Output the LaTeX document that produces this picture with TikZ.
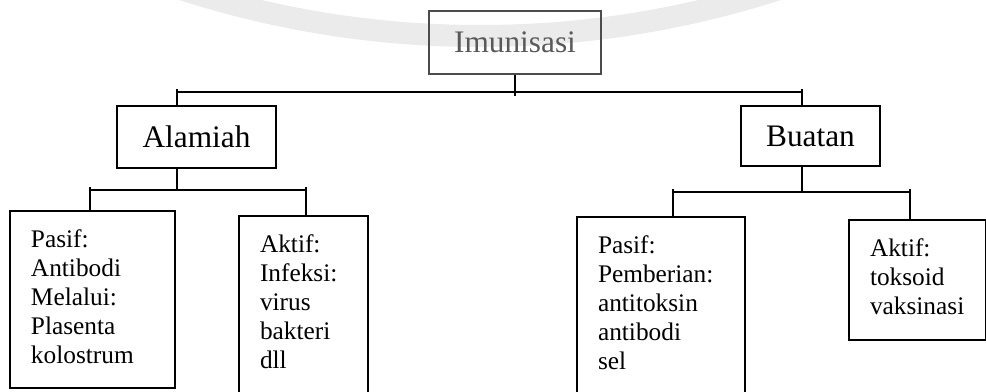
\documentclass[tikz,border=0pt]{standalone}
\usepackage{fontspec}
\setmainfont{Liberation Serif}
\usepackage{tikz}

\begin{document}
\begin{tikzpicture}[x=0.75pt, y=-0.75pt,
        headbox/.style={draw, line width=1.5pt, inner sep=0pt, font=\fontsize{23.5pt}{28pt}\selectfont},
        listbox/.style={draw, line width=1.5pt, anchor=north west, align=left, inner xsep=15.75pt, inner ysep=0pt, text depth=91.5pt, minimum height=132.75pt, font=\fontsize{19pt}{21.75pt}\selectfont},
        link/.style={line width=1.5pt}]
        \useasboundingbox (0,0) rectangle (986,392);
        \clip (0,0) rectangle (986,392);
        \draw[black!8, line width=16.5pt] (480,-934) circle [radius=727.5pt];

        \node[headbox, draw=black!70, text=black!65, minimum width=129pt, minimum height=47.25pt] (imun) at (515,42.5) {Imunisasi};
        \node[headbox, minimum width=119.25pt, minimum height=46.5pt] (alam) at (196.5,137) {Alamiah};
        \node[headbox, minimum width=104.25pt, minimum height=45pt] (buat) at (810.5,136) {Buatan};

        \node[listbox, text width=92.25pt] (alPasif) at (9,210) {Pasif:\\ Antibodi\\ Melalui:\\ Plasenta\\ kolostrum};
        \node[listbox, text width=65.25pt] (alAktif) at (238,215) {Aktif:\\ Infeksi:\\ virus\\ bakteri\\ dll};
        \node[listbox, text width=94.5pt] (buPasif) at (576,216) {Pasif:\\ Pemberian:\\ antitoksin\\ antibodi\\ sel};
        \node[listbox, text width=71.25pt, text depth=48pt, minimum height=90pt] (buAktif) at (848,219) {Aktif:\\ toksoid\\ vaksinasi};

        \coordinate (jA) at (177,92);
        \coordinate (jB) at (802,92);
        \draw[link] (imun.south) -- ++(0,21);
        \draw[link] (jA) -- (jB);
        \draw[link] (jA) ++(0,-3) -- (jA |- alam.north);
        \draw[link] (jB) ++(0,-3) -- (jB |- buat.north);

        \coordinate (kA) at (90,190);
        \coordinate (kB) at (306,190);
        \draw[link] (alam.south -| jA) -- (jA |- kA);
        \draw[link] (kA) -- (kB);
        \draw[link] (kA) ++(0,-3) -- (kA |- alPasif.north);
        \draw[link] (kB) ++(0,-3) -- (kB |- alAktif.north);

        \coordinate (mA) at (673,192);
        \coordinate (mB) at (910,192);
        \draw[link] (buat.south -| jB) -- (jB |- mA);
        \draw[link] (mA) -- (mB);
        \draw[link] (mA) ++(0,-3) -- (mA |- buPasif.north);
        \draw[link] (mB) ++(0,-3) -- (mB |- buAktif.north);
\end{tikzpicture}
\end{document}
